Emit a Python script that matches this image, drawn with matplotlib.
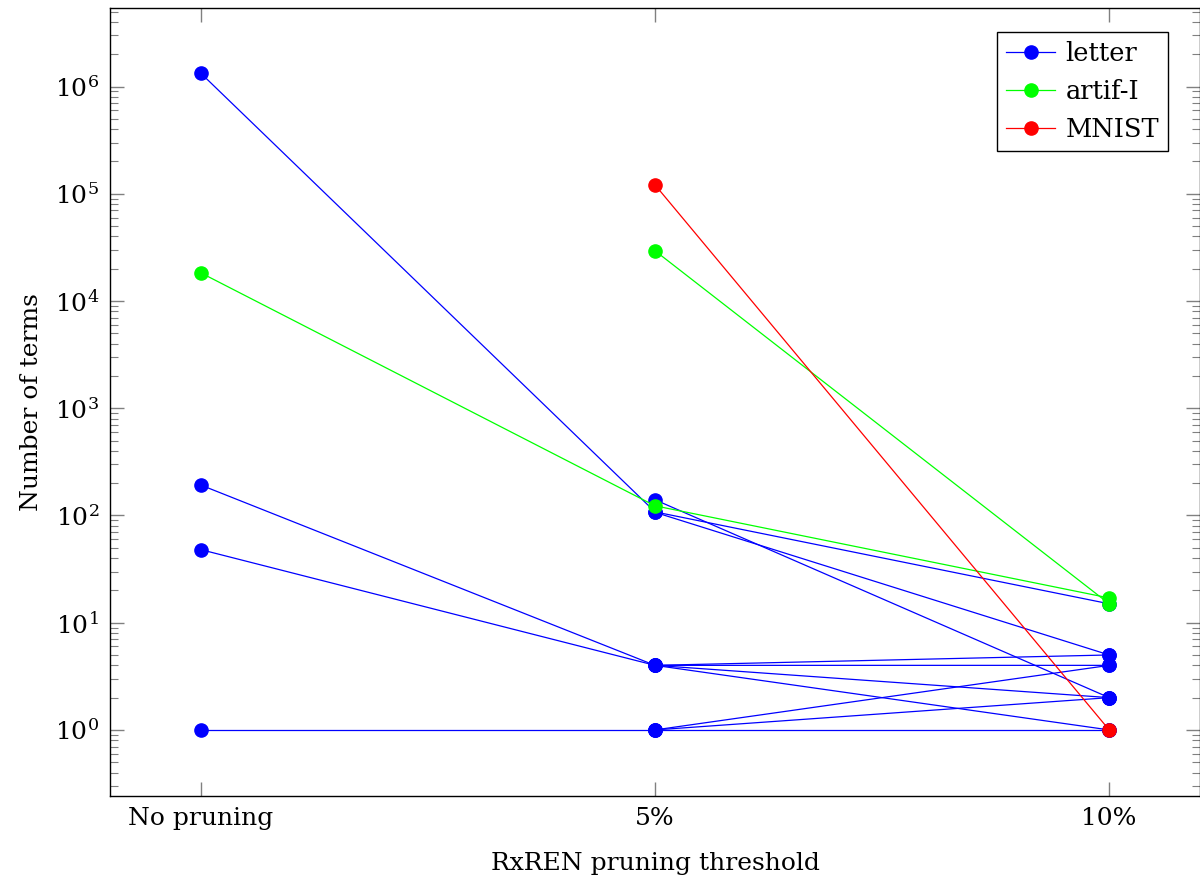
import numpy as np
import matplotlib
matplotlib.use("Agg")
import matplotlib.pyplot as plt
from matplotlib.ticker import LogLocator, NullFormatter

plt.rcParams['font.family'] = ['DejaVu Serif']
plt.rcParams['mathtext.fontset'] = 'dejavuserif'

# categories on the x axis
thresholds = ["No pruning", "5%", "10%"]

# number of terms per run (nan = not available)
letter_runs = [
    [1.33e6, 108, 15],
    [192, 4, 5],
    [48, 4, 4],
    [1, 1, 1],
    [np.nan, 140, 2],
    [np.nan, 107, 5],
    [np.nan, 4, 2],
    [np.nan, 4, 1],
    [np.nan, 1, 4],
    [np.nan, 1, 2],
]
artif_runs = [
    [18300, 123, 17],
    [np.nan, 29400, 15],
]
mnist_runs = [
    [np.nan, 121000, 1],
]

fig = plt.figure(figsize=(12, 8.81), dpi=100)
ax = fig.add_axes([0.0917, 0.0965, 0.9083, 0.8944])

x = np.arange(len(thresholds))
groups = [("letter", letter_runs, (0, 0, 1)),
          ("artif-I", artif_runs, (0, 1, 0)),
          ("MNIST", mnist_runs, (1, 0, 0))]

for name, runs, color in groups:
    for i, run in enumerate(runs):
        run = np.array(run, dtype=float)
        ok = ~np.isnan(run)
        ax.plot(x[ok], run[ok], color=color, lw=0.9, marker='o', ms=9.5,
                label=name if i == 0 else None)

ax.set_yscale('log')
ax.set_ylim(0.242, 5.4e6)
ax.set_xlim(-0.2, 2.2)
ax.set_xticks(x)
ax.set_xticklabels(thresholds)
ax.yaxis.set_major_locator(LogLocator(base=10, numticks=20))
ax.yaxis.set_minor_locator(LogLocator(base=10, subs=np.arange(2, 10), numticks=20))
ax.yaxis.set_minor_formatter(NullFormatter())

ax.tick_params(axis='both', which='major', direction='in', length=10, width=1,
               color='#808080', top=True, right=True, labelsize=18, pad=8)
ax.tick_params(axis='y', which='minor', direction='in', length=6, width=0.8,
               color='#808080', right=True, left=True)
ax.tick_params(axis='x', which='minor', bottom=False, top=False)
for s in ax.spines.values():
    s.set_linewidth(1)

ax.set_xlabel("RxREN pruning threshold", fontsize=18, labelpad=16)
ax.set_ylabel("Number of terms", fontsize=18, labelpad=8)

leg = ax.legend(loc='upper right', fontsize=18.5, fancybox=False, framealpha=1,
                edgecolor='black', bbox_to_anchor=(1168 / 1200, 1 - 32 / 881),
                bbox_transform=fig.transFigure, borderaxespad=0,
                handlelength=1.9, borderpad=0.35, labelspacing=0.5,
                handletextpad=0.4)
leg.get_frame().set_linewidth(1)

fig.savefig("out.png", dpi=100)
